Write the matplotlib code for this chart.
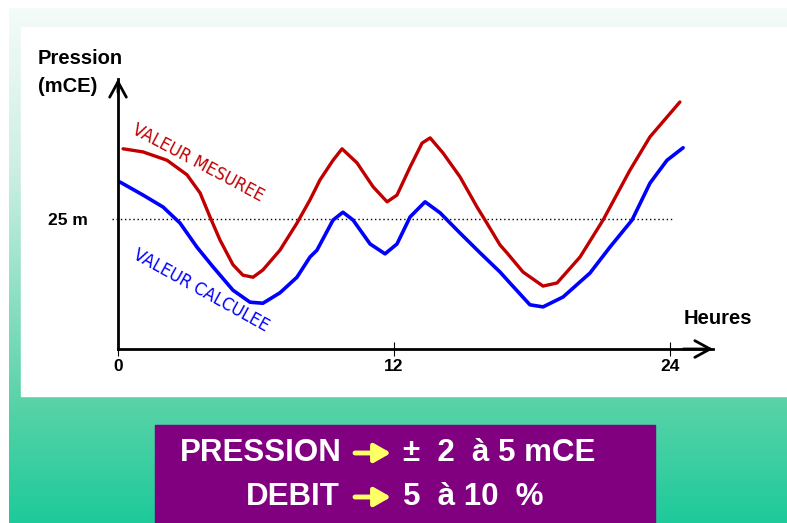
import numpy as np
import matplotlib
matplotlib.use("Agg")
import matplotlib.pyplot as plt
from matplotlib.patches import Rectangle

plt.rcParams['font.family'] = ['Liberation Sans', 'DejaVu Sans']

# Curves (hours, pressure in mCE)
hours_mes = [0.22, 1.09, 2.13, 3.0, 3.57, 4.0, 4.43, 5.0, 5.43, 5.87, 6.30, 7.04, 7.78, 8.35,
             8.78, 9.35, 9.74, 10.39, 11.09, 11.70, 12.13, 12.70, 13.22, 13.57, 14.13, 14.87,
             15.61, 16.04, 16.61, 16.91, 17.61, 18.48, 19.09, 20.09, 21.09, 22.26, 23.13, 24.43]
p_mes = [38.5, 37.9, 36.3, 33.5, 30.0, 25.4, 21.0, 16.2, 14.2, 13.8, 15.2, 19.0, 24.2, 28.7,
         32.5, 36.3, 38.5, 35.8, 31.2, 28.3, 29.6, 35.0, 39.6, 40.6, 37.7, 33.1,
         27.3, 24.2, 20.0, 18.5, 14.8, 12.1, 12.7, 17.7, 24.8, 34.4, 40.8, 47.5]

hours_calc = [0.09, 1.09, 1.96, 2.70, 3.43, 4.13, 5.0, 5.74, 6.30, 7.04, 7.78, 8.35, 8.65,
              9.35, 9.78, 10.22, 10.96, 11.61, 12.13, 12.70, 13.35, 14.0, 14.87, 15.74, 16.61,
              17.04, 17.91, 18.48, 19.35, 20.52, 21.39, 22.35, 23.13, 23.87, 24.57]
p_calc = [32.1, 29.6, 27.3, 24.2, 19.6, 15.8, 11.3, 9.0, 8.8, 10.8, 13.8, 17.7, 19.0,
          24.8, 26.3, 24.8, 20.2, 18.3, 20.2, 25.4, 28.3, 26.2, 22.3, 18.5, 14.8,
          12.7, 8.5, 8.1, 10.0, 14.6, 19.6, 24.8, 31.9, 36.3, 38.7]

ref_level = 25
x_ticks = [0, 12, 24]

W, H = 787, 523
fig = plt.figure(figsize=(W / 100, H / 100), dpi=100)

# slide background in pixel coordinates
bg = fig.add_axes([0, 0, 1, 1])
bg.set_xlim(0, W)
bg.set_ylim(H, 0)
bg.axis('off')

stops_y = [8, 170, 400, 523]
stops_c = np.array([[244, 251, 248], [205, 239, 227], [90, 211, 168], [30, 202, 154]]) / 255
yy = np.linspace(8, H, 300)
grad = np.stack([np.interp(yy, stops_y, stops_c[:, k]) for k in range(3)], axis=-1)
bg.imshow(grad[:, None, :], extent=(9, W, H, 8), aspect='auto', zorder=0)
bg.add_patch(Rectangle((21, 27), W - 21, 396 - 27, color='white', zorder=1))
bg.add_patch(Rectangle((155, 425), 500, H - 425, color='#800080', zorder=1))

bold = dict(fontweight='bold', color='black')
bg.text(38, 58, 'Pression', fontsize=14.5, va='center', **bold)
bg.text(38, 86, '(mCE)', fontsize=14.5, va='center', **bold)
bg.text(684, 319, 'Heures', fontsize=14.5, va='center', **bold)

cond = dict(family='DejaVu Sans', fontstretch='condensed', rotation_mode='anchor',
            ha='center', va='center')
bg.text(198, 163, 'VALEUR MESUREE', fontsize=13, color='#C00000', rotation=-28, **cond)
bg.text(201, 291, 'VALEUR CALCULEE', fontsize=13, color='#0000FF', rotation=-29, **cond)

# bottom summary box
box = dict(fontsize=22.5, fontweight='bold', color='white', va='center')
bg.text(342, 453, 'PRESSION', ha='right', **box)
bg.text(403, 453, '±  2  à 5 mCE', ha='left', **box)
bg.text(340, 497, 'DEBIT', ha='right', **box)
bg.text(403, 497, '5  à 10  %', ha='left', **box)
for yc in [453, 497]:
    bg.annotate('', xy=(391, yc), xytext=(355, yc),
                arrowprops=dict(arrowstyle='-|>,head_length=0.7,head_width=0.4', lw=3.5,
                                color='#FFFF66', shrinkA=0, shrinkB=0, mutation_scale=14))

# chart axes: 23 px per hour, 5.2 px per mCE
ax = fig.add_axes([118 / W, (H - 349) / H, (713 - 118) / W, (349 - 79) / H])
ax.set_xlim(0, (713 - 118) / 23)
ax.set_ylim(0, (349 - 79) / 5.2)
ax.patch.set_alpha(0)
for s in ['top', 'right']:
    ax.spines[s].set_visible(False)
for s in ['left', 'bottom']:
    ax.spines[s].set_linewidth(2)

ax.set_xticks(x_ticks)
ax.set_xticklabels([str(t) for t in x_ticks], fontsize=12.5, fontweight='bold')
ax.tick_params(axis='x', direction='inout', length=10, width=0.8, pad=2)
ax.set_yticks([ref_level])
ax.set_yticklabels(['25 m'], fontsize=12.5, fontweight='bold')
ax.tick_params(axis='y', length=0, pad=22)

for xy, xyt in [((1, 0), (0.95, 0)), ((0, 1), (0, 0.95))]:
    ax.annotate('', xy=xy, xytext=xyt, xycoords='axes fraction',
                arrowprops=dict(arrowstyle='->,head_length=0.55,head_width=0.3', lw=2,
                                color='black', shrinkA=0, shrinkB=0, mutation_scale=20))

ax.hlines(ref_level, -0.26, 24.13, colors='black', linestyles=(0, (1, 2)), lw=1, clip_on=False)
ax.plot(hours_mes, p_mes, color='#C00000', lw=2.4, solid_joinstyle='round', solid_capstyle='round')
ax.plot(hours_calc, p_calc, color='#0000FF', lw=2.6, solid_joinstyle='round', solid_capstyle='round')

fig.savefig('out.png', dpi=100)
